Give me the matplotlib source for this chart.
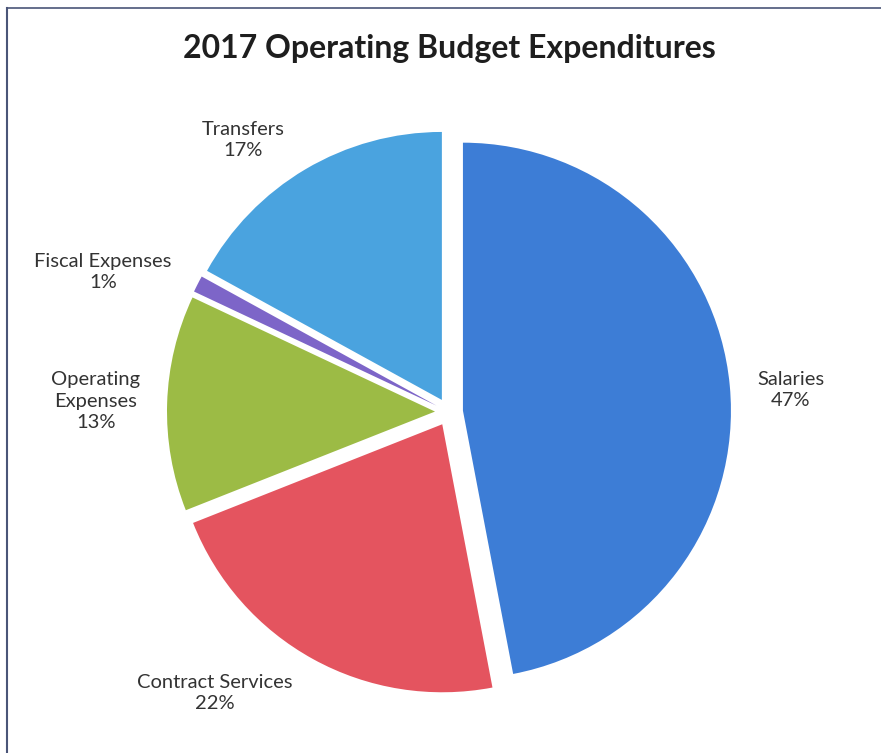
import matplotlib.pyplot as plt
from matplotlib.lines import Line2D

# expenditure categories, clockwise from 12 o'clock
categories = ['Salaries', 'Contract Services', 'Operating\nExpenses', 'Fiscal Expenses', 'Transfers']
shares = [47, 22, 13, 1, 17]
colors = ['#3d7dd6', '#e4545f', '#9cbb45', '#7d65c8', '#4aa3df']

# where each label block sits (pixel coords, y measured from the bottom)
label_pos = [(791, 363), (215, 60), (96, 352), (103, 481), (243, 613)]

W, H = 881, 753
fig = plt.figure(figsize=(W / 100, H / 100), dpi=100)
ax = fig.add_axes([0, 0, 1, 1])

# explode is in data units here (pixels), so every slice is pulled out ~14px
ax.pie(shares, colors=colors, startangle=90, counterclock=False,
       explode=[14] * len(shares), center=(449, 341), radius=268,
       wedgeprops=dict(linewidth=0), frame=True)
ax.set_xlim(0, W)
ax.set_ylim(0, H)
ax.set_aspect('equal')
ax.axis('off')

for name, pct, (x, y) in zip(categories, shares, label_pos):
    ax.text(x, y, f'{name}\n{pct}%', ha='center', va='center',
            fontsize=14.5, family='Lato', color='#333333', linespacing=1.3)

ax.text(449, H - 48, '2017 Operating Budget Expenditures', ha='center', va='center',
        fontsize=23, family='Lato', fontweight='bold', color='#1e1e1e')

# frame lines along the top and left edge
fig.add_artist(Line2D([7 / W, 1], [1 - 8 / H, 1 - 8 / H], color='#4a5578', lw=1.2))
fig.add_artist(Line2D([7 / W, 7 / W], [0, 1 - 8 / H], color='#4a5578', lw=1.5))

plt.savefig('out.png', dpi=100)
